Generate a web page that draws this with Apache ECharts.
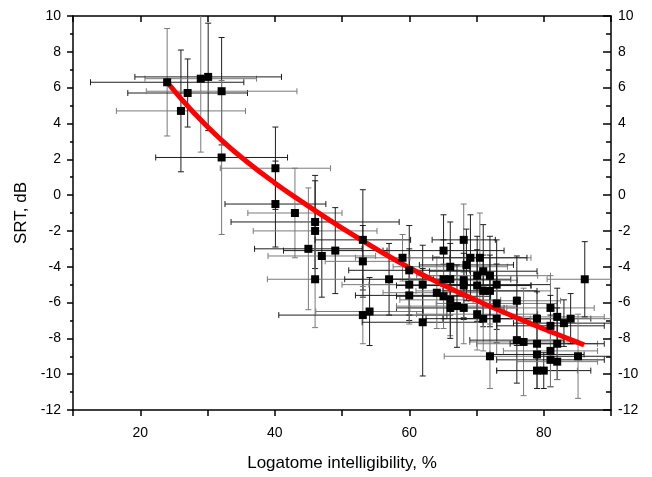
<!DOCTYPE html>
<html>
<head>
<meta charset="utf-8">
<script src="https://cdn.jsdelivr.net/npm/echarts@6/dist/echarts.min.js"></script>
<style>
  html, body { margin: 0; padding: 0; background: #fff; }
  #srt_chart { width: 652px; height: 477px; }
</style>
</head>
<body>
<div id="srt_chart"></div>
<script>
// measured points: logatome intelligibility (%) vs SRT (dB), with +/- errors
const xVals = [24.0, 26.05, 27.05, 29.0, 30.1, 32.1, 32.1, 40.1, 40.1, 43.0,
  46.0, 46.0, 45.0, 47.0, 49.0, 46.0, 53.1, 53.1, 53.1, 54.1,
  57.0, 59.0, 60.0, 60.0, 60.0, 62.0, 62.0, 64.1, 65.1, 65.1,
  65.1, 66.1, 66.1, 66.1, 66.1, 67.1, 68.1, 68.1, 68.1, 68.1,
  68.5, 69.1, 70.5, 70.1, 70.1, 70.1, 71.0, 71.0, 71.0, 72.0,
  72.0, 72.0, 73.0, 73.0, 73.0, 76.0, 76.0, 77.0, 79.0, 79.0,
  79.0, 79.0, 80.0, 81.0, 81.0, 81.0, 81.0, 82.0, 82.0, 82.0,
  83.0, 84.0, 85.1, 86.1]
const yVals = [6.3, 4.7, 5.7, 6.5, 6.6, 5.8, 2.1, 1.5, -0.5, -1.0,
  -1.5, -2.0, -3.0, -3.4, -3.1, -4.7, -2.5, -3.7, -6.7, -6.5,
  -4.7, -3.5, -4.2, -5.0, -5.6, -5.0, -7.1, -5.45, -3.1, -4.7,
  -5.65, -4.0, -4.7, -5.85, -6.3, -6.2, -2.5, -4.75, -5.05, -6.3,
  -3.9, -3.5, -3.5, -4.5, -5.05, -6.65, -4.25, -5.35, -6.9, -4.5,
  -5.35, -9.0, -5.0, -6.05, -6.9, -5.9, -8.1, -8.2, -6.9, -8.3,
  -8.9, -9.8, -9.8, -6.3, -7.3, -8.7, -9.2, -6.8, -8.3, -9.3,
  -7.15, -6.9, -9.0, -4.7]
const xErr = [11.4, 9.6, 8.9, 8.3, 10.9, 11.2, 9.8, 8.2, 7.5, 7.0,
  12.5, 9.2, 8.0, 8.0, 7.7, 7.1, 7.1, 5.6, 12.5, 8.0,
  6.6, 7.0, 9.0, 10.0, 8.0, 8.0, 9.0, 8.0, 9.0, 8.0,
  7.0, 8.5, 9.0, 7.5, 8.0, 9.0, 4.7, 8.0, 10.0, 8.0,
  7.0, 9.0, 7.0, 9.0, 8.0, 9.0, 8.0, 10.0, 8.5, 9.0,
  7.0, 6.8, 8.0, 9.0, 8.0, 6.5, 7.0, 8.0, 8.0, 9.0,
  7.0, 6.0, 7.0, 6.5, 8.0, 7.0, 8.0, 7.0, 7.0, 6.0,
  7.5, 6.0, 6.0, 5.6]
const yErr = [3.0, 3.4, 1.9, 4.1, 3.0, 3.0, 4.3, 2.3, 2.4, 2.5,
  2.6, 2.8, 3.4, 2.3, 2.4, 2.7, 2.8, 2.0, 1.6, 1.9,
  2.0, 1.3, 2.5, 2.0, 1.6, 2.2, 3.0, 2.0, 2.0, 2.2,
  1.8, 2.5, 2.0, 2.0, 1.7, 2.3, 2.0, 2.2, 1.8, 2.0,
  2.0, 2.4, 2.5, 2.2, 2.0, 2.0, 2.6, 2.0, 1.8, 2.2,
  2.0, 1.8, 2.5, 2.2, 2.0, 2.5, 2.4, 3.0, 1.5, 1.6,
  1.9, 1.0, 1.0, 1.8, 1.7, 2.0, 1.5, 1.6, 2.0, 1.0,
  1.3, 1.4, 2.35, 2.1]

// red fitted curve
const fitX = [24, 28, 32, 36, 40, 44, 48, 52, 56, 60, 64, 68, 72, 76, 80, 84, 86]
const fitY = [6.3, 4.58, 3.1, 1.82, 0.68, -0.36, -1.36, -2.31, -3.21, -4.05, -4.83, -5.54, -6.21, -6.85, -7.47, -8.07, -8.36]

const xLabels = [20, 40, 60, 80]

const points = xVals.map((x, i) => [x, yVals[i], xErr[i], yErr[i]])
const fitData = fitX.map((x, i) => [x, fitY[i]])

function renderErr (params, api) {
  const x = api.value(0)
  const y = api.value(1)
  const ex = api.value(2)
  const ey = api.value(3)
  const l = api.coord([x - ex, y])
  const r = api.coord([x + ex, y])
  const t = api.coord([x, y + ey])
  const b = api.coord([x, y - ey])
  const cap = 3
  const i = params.dataIndex
  const cx = i % 2 ? '#7a7a7a' : '#1e1e1e'
  const cy = i % 3 ? '#1e1e1e' : '#7a7a7a'
  const ln = (x1, y1, x2, y2, c) => ({
    type: 'line',
    shape: { x1: x1, y1: y1, x2: x2, y2: y2 },
    style: { stroke: c, lineWidth: 1 }
  })
  return {
    type: 'group',
    children: [
      ln(l[0], l[1], r[0], r[1], cx),
      ln(l[0], l[1] - cap, l[0], l[1] + cap, cx),
      ln(r[0], r[1] - cap, r[0], r[1] + cap, cx),
      ln(t[0], t[1], b[0], b[1], cy),
      ln(t[0] - cap, t[1], t[0] + cap, t[1], cy),
      ln(b[0] - cap, b[1], b[0] + cap, b[1], cy)
    ]
  }
}

const font = 'Liberation Sans, Arial, sans-serif'
const axisLine = { show: true, onZero: false, lineStyle: { color: '#000', width: 1.5 } }

const option = {
  animation: false,
  grid: { left: 73, right: 41, top: 16, bottom: 61 },
  xAxis: [{
    type: 'value',
    position: 'bottom',
    min: 10,
    max: 90,
    interval: 10,
    name: 'Logatome intelligibility, %',
    nameLocation: 'middle',
    nameGap: 45,
    nameTextStyle: { fontFamily: font, fontSize: 17, color: '#000' },
    axisLine: axisLine,
    axisTick: { show: true, inside: false, length: 6, lineStyle: { color: '#000', width: 1.5 } },
    axisLabel: {
      margin: 16,
      fontFamily: font,
      fontSize: 14,
      color: '#000',
      formatter: v => (xLabels.indexOf(v) >= 0 ? String(v) : '')
    },
    splitLine: { show: false }
  }, {
    type: 'value',
    position: 'top',
    min: 10,
    max: 90,
    interval: 10,
    axisLine: axisLine,
    axisTick: { show: true, inside: true, length: 6, lineStyle: { color: '#000', width: 1.5 } },
    axisLabel: { show: false },
    splitLine: { show: false }
  }],
  yAxis: [{
    type: 'value',
    position: 'left',
    min: -12,
    max: 10,
    interval: 2,
    name: 'SRT, dB',
    nameLocation: 'middle',
    nameGap: 43,
    nameTextStyle: { fontFamily: font, fontSize: 17, color: '#000' },
    axisLine: axisLine,
    axisTick: { show: true, inside: false, length: 6, lineStyle: { color: '#000', width: 1.5 } },
    minorTick: { show: true, splitNumber: 2, length: 3, lineStyle: { color: '#000', width: 1.5 } },
    axisLabel: { margin: 12, fontFamily: font, fontSize: 14, color: '#000' },
    splitLine: { show: false }
  }, {
    type: 'value',
    position: 'right',
    min: -12,
    max: 10,
    interval: 2,
    axisLine: axisLine,
    axisTick: { show: true, inside: true, length: 8, lineStyle: { color: '#000', width: 1.5 } },
    minorTick: { show: true, splitNumber: 2, length: 5, lineStyle: { color: '#000', width: 1.5 } },
    axisLabel: { margin: 7, fontFamily: font, fontSize: 14, color: '#000' },
    splitLine: { show: false }
  }],
  series: [{
    type: 'custom',
    renderItem: renderErr,
    data: points,
    encode: { x: 0, y: 1 },
    clip: true,
    z: 2
  }, {
    type: 'line',
    data: fitData,
    smooth: true,
    showSymbol: false,
    lineStyle: { color: '#ff0000', width: 5 },
    z: 3
  }, {
    type: 'scatter',
    data: points.map(p => [p[0], p[1]]),
    symbol: 'rect',
    symbolSize: 8,
    itemStyle: { color: '#000', opacity: 1 },
    z: 4
  }]
}

const myChart = echarts.init(document.getElementById('srt_chart'))
myChart.setOption(option)
window.addEventListener('resize', function () {
  myChart.resize()
})
</script>
</body>
</html>
